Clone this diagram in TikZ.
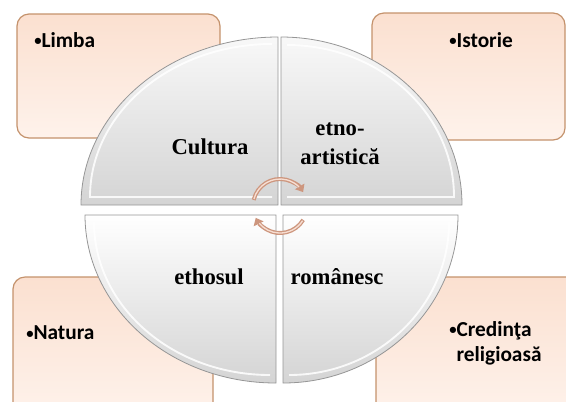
\documentclass[tikz,border=0pt]{standalone}
\usepackage{fontspec}
\setmainfont{Liberation Serif}
\newfontfamily\boxfont{Carlito}
\usetikzlibrary{arrows.meta}

\definecolor{peach}{RGB}{251,224,208}
\definecolor{peachlight}{RGB}{254,242,235}
\definecolor{peachline}{RGB}{196,146,108}
\definecolor{quadline}{RGB}{150,150,150}
\definecolor{quaddark}{RGB}{212,212,212}
\definecolor{quadlight}{RGB}{248,248,248}
\definecolor{ringouter}{RGB}{205,150,126}
\definecolor{ringinner}{RGB}{247,222,210}

\newcommand{\dotmark}{{\fontsize{11}{11}\selectfont\raisebox{0.2ex}{•}}}

\begin{document}
\begin{tikzpicture}[x=0.75pt, y=-0.75pt,
	topic/.style={draw=peachline, line width=0.9pt, rounded corners=9pt, top color=peach, bottom color=peachlight},
	topictext/.style={font=\boxfont\bfseries\fontsize{16}{19}\selectfont, text=black, inner sep=0pt},
	quadup/.style={draw=quadline, line width=0.6pt, top color=quadlight, bottom color=quaddark},
	quaddown/.style={draw=quadline, line width=0.6pt, top color=white, bottom color=quaddark},
	bevel/.style={draw=white, line width=1.4pt, opacity=0.85},
	quadtext/.style={font=\bfseries\fontsize{17}{22}\selectfont, align=center, inner sep=0pt},
	ring/.style={draw=ringouter, line width=3pt, -{Triangle[length=5pt, width=8pt]}},
	ringcore/.style={draw=ringinner, line width=1pt}]

	\useasboundingbox (0,0) rectangle (566,401);
	\clip (0,0) rectangle (566,401);

	% outer boxes
	\draw[topic] (17,14) rectangle (220,138);
	\draw[topic] (372,13) rectangle (565,140);
	\draw[topic] (13,277) rectangle (213,415);
	\draw[topic] (376,277) rectangle (580,415);

	% four quarters of the circle
	\draw[quadup] (278,205) -- (81,205) arc[start angle=180, end angle=270, x radius=197, y radius=168] -- cycle;
	\draw[quadup] (281,205) -- (281,37) arc[start angle=270, end angle=360, x radius=181, y radius=168] -- cycle;
	\draw[quaddown] (276,215) -- (276,383) arc[start angle=90, end angle=180, x radius=191, y radius=168] -- cycle;
	\draw[quaddown] (283,215) -- (458,215) arc[start angle=0, end angle=90, x radius=175, y radius=168] -- cycle;

	\draw[bevel] (272,197) -- (90,197) arc[start angle=180, end angle=270, x radius=182, y radius=153];
	\draw[bevel] (287,45) arc[start angle=270, end angle=360, x radius=167, y radius=152] -- (287,197);
	\draw[bevel] (94,222) arc[start angle=180, end angle=90, x radius=176, y radius=153];
	\draw[bevel] (449,222) arc[start angle=0, end angle=90, x radius=160, y radius=153];

	% texts
	\node[topictext, anchor=west] (limba) at (34,40) {\dotmark Limba};
	\node[topictext] (istorie) at (481,40) {\dotmark Istorie};
	\node[topictext, anchor=west] (natura) at (26,333) {\dotmark Natura};
	\node[topictext, anchor=west, align=left] (credinta) at (449,343) {\dotmark Credinţa\\\hphantom{\dotmark}religioasă};

	\node[quadtext] (cultura) at (210,147) {Cultura};
	\node[quadtext] (etno) at (340,144) {etno-\\artistică};
	\node[quadtext] (ethosul) at (209,277) {ethosul};
	\node[quadtext] (romanesc) at (337,277) {românesc};

	% circular arrows in the middle
	\coordinate (hub) at (280,206);
	\draw[ring] (hub) ++(-167:27) arc[start angle=-167, end angle=-31, radius=27];
	\draw[ringcore] (hub) ++(-165:27) arc[start angle=-165, end angle=-45, radius=27];
	\draw[ring] (hub) ++(31:27) arc[start angle=31, end angle=154, radius=27];
	\draw[ringcore] (hub) ++(33:27) arc[start angle=33, end angle=140, radius=27];
\end{tikzpicture}
\end{document}
